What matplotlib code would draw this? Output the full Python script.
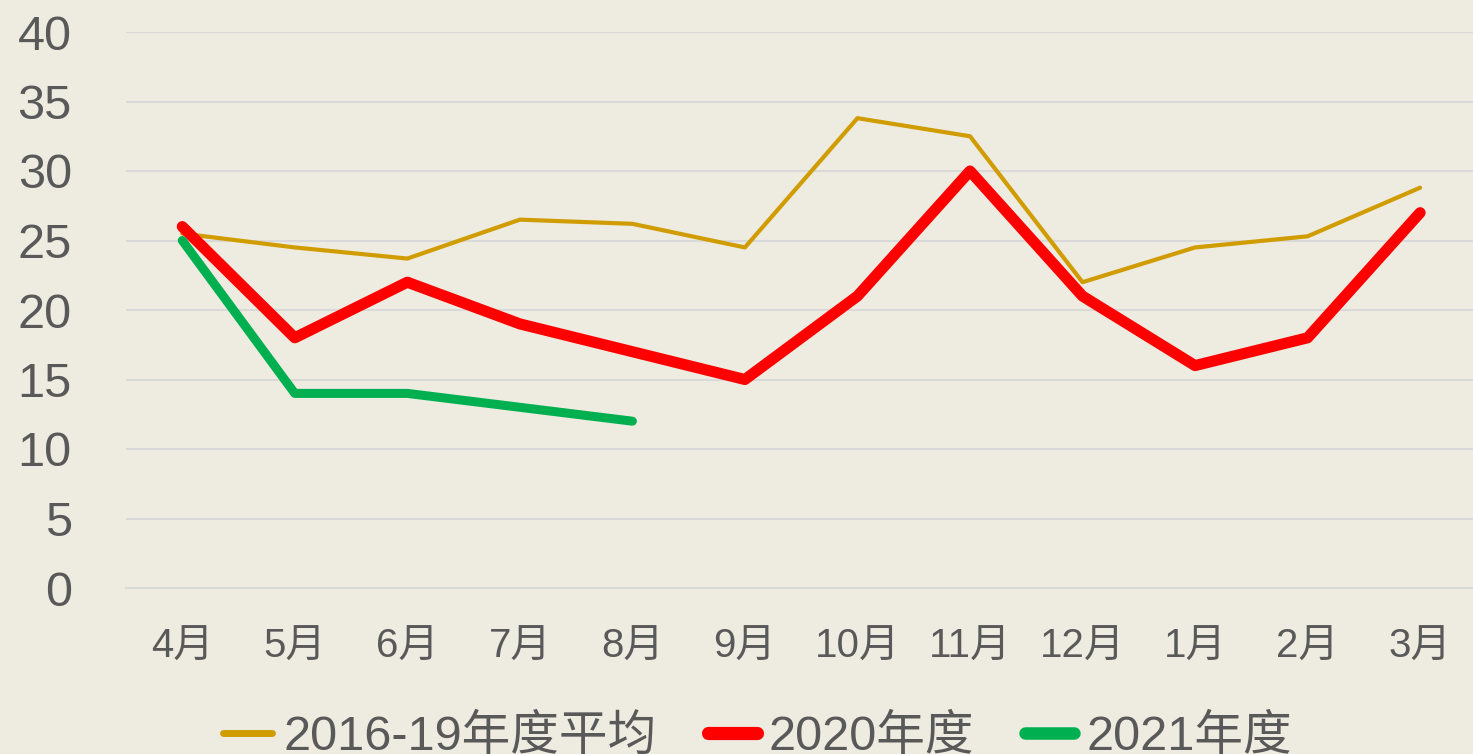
import matplotlib.pyplot as plt

plt.rcParams['font.family'] = ['Liberation Sans', 'Noto Sans CJK SC', 'DejaVu Sans']

months = ['4月', '5月', '6月', '7月', '8月', '9月', '10月', '11月', '12月', '1月', '2月', '3月']
avg_1619 = [25.5, 24.5, 23.7, 26.5, 26.2, 24.5, 33.8, 32.5, 22.0, 24.5, 25.3, 28.8]
fy2020 = [26, 18, 22, 19, 17, 15, 21, 30, 21, 16, 18, 27]
fy2021 = [25, 14, 14, 13, 12]

bg = '#EEECE1'
txt = '#595959'

fig = plt.figure(figsize=(14.73, 7.54), dpi=100, facecolor=bg)
ax = fig.add_axes([126 / 1473, 1 - 588 / 754, 1 - 126 / 1473, (588 - 32) / 754])
ax.set_facecolor(bg)

x = range(len(months))
ax.plot(x, avg_1619, color='#D09C00', lw=3, solid_capstyle='round',
        solid_joinstyle='round', label='2016-19年度平均', clip_on=False, zorder=3)
ax.plot(x, fy2020, color='#FF0000', lw=8, solid_capstyle='round',
        solid_joinstyle='round', label='2020年度', clip_on=False, zorder=4)
ax.plot(range(len(fy2021)), fy2021, color='#00B050', lw=6.5, solid_capstyle='round',
        solid_joinstyle='round', label='2021年度', clip_on=False, zorder=5)

ax.set_xlim(-0.5, 11.47)
ax.set_ylim(0, 40)
ax.set_yticks(range(0, 41, 5))
ax.set_xticks(list(x))
ax.set_xticklabels(months)
ax.grid(axis='y', color='#D9D9D9', lw=1.5)
ax.set_axisbelow(True)
for s in ax.spines.values():
    s.set_visible(False)
ax.spines['bottom'].set_visible(True)
ax.spines['bottom'].set_color('#D9D9D9')
ax.spines['bottom'].set_linewidth(1.5)
ax.tick_params(length=0, colors=txt)
ax.tick_params(axis='y', labelsize=35, pad=39)
ax.tick_params(axis='x', labelsize=29, pad=29)

# legend along the bottom edge, partly cut off
leg = fig.legend(loc='center', bbox_to_anchor=(0.5 + 21 / 1473, 1 - 737 / 754),
                 ncol=3, frameon=False, fontsize=35, labelcolor=txt,
                 handlelength=1.0, handletextpad=0.25, columnspacing=1.05)
for line, w in zip(leg.get_lines(), [5, 9.5, 9]):
    line.set_linewidth(w)
    line.set_solid_capstyle('round')

fig.savefig('out.png', dpi=100, facecolor=bg)
